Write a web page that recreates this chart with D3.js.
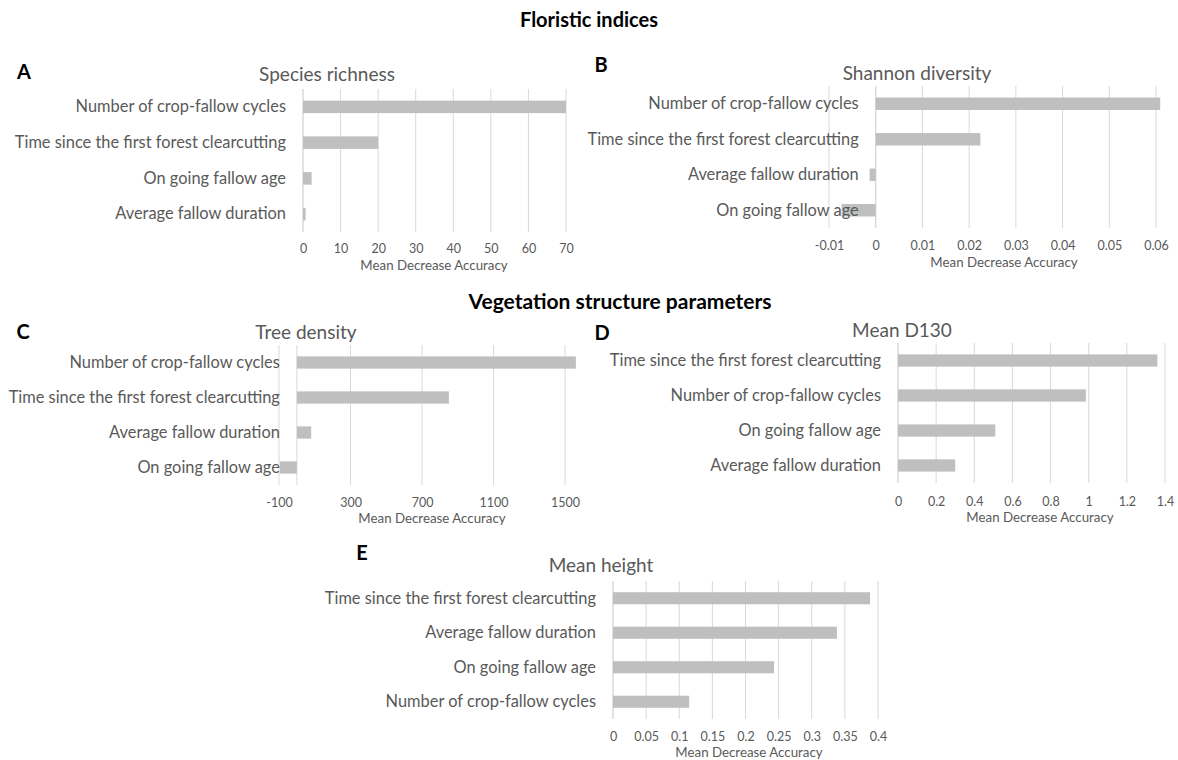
<!DOCTYPE html>
<html>
<head>
<meta charset="utf-8">
<script src="https://cdn.jsdelivr.net/npm/d3@7"></script>
<style>
  body { margin: 0; background: #fff; }
  text { font-family: Lato, "Open Sans", sans-serif; }
</style>
</head>
<body>
<svg id="wrapper" width="1178" height="760"></svg>
<script>
// data per panel (Mean Decrease Accuracy)
const speciesCats = ["Number of crop-fallow cycles", "Time since the first forest clearcutting", "On going fallow age", "Average fallow duration"]
const speciesVals = [70, 20, 2.3, 0.7]
const speciesTicks = [0, 10, 20, 30, 40, 50, 60, 70]

const shannonCats = ["Number of crop-fallow cycles", "Time since the first forest clearcutting", "Average fallow duration", "On going fallow age"]
const shannonVals = [0.0609, 0.0224, -0.0013, -0.0073]
const shannonTicks = [-0.01, 0, 0.01, 0.02, 0.03, 0.04, 0.05, 0.06]

const treeCats = ["Number of crop-fallow cycles", "Time since the first forest clearcutting", "Average fallow duration", "On going fallow age"]
const treeVals = [1560, 850, 80, -95]
const treeTicks = [-100, 300, 700, 1100, 1500]

const d130Cats = ["Time since the first forest clearcutting", "Number of crop-fallow cycles", "On going fallow age", "Average fallow duration"]
const d130Vals = [1.36, 0.985, 0.51, 0.30]
const d130Ticks = [0, 0.2, 0.4, 0.6, 0.8, 1, 1.2, 1.4]

const heightCats = ["Time since the first forest clearcutting", "Average fallow duration", "On going fallow age", "Number of crop-fallow cycles"]
const heightVals = [0.388, 0.338, 0.243, 0.115]
const heightTicks = [0, 0.05, 0.1, 0.15, 0.2, 0.25, 0.3, 0.35, 0.4]

const barColour = "#BFBFBF"
const gridColour = "#D9D9D9"
const textColour = "#595959"
const axisTitle = "Mean Decrease Accuracy"

const panels = [
  {letter: "A", lx: 24, ly: 72, title: "Species richness", tx: 327, ty: 74,
   cats: speciesCats, vals: speciesVals, ticks: speciesTicks, domain: [0, 70],
   left: 303, right: 566, top: 89, bottom: 232, tickY: 249, atx: 434, aty: 265},
  {letter: "B", lx: 601, ly: 65, title: "Shannon diversity", tx: 917, ty: 73,
   cats: shannonCats, vals: shannonVals, ticks: shannonTicks, domain: [-0.01, 0.06],
   left: 829, right: 1156, top: 86, bottom: 228, tickY: 246, atx: 1004, aty: 262},
  {letter: "C", lx: 23, ly: 332, title: "Tree density", tx: 306, ty: 332,
   cats: treeCats, vals: treeVals, ticks: treeTicks, domain: [-100, 1600],
   left: 279, right: 583, top: 345, bottom: 485, tickY: 503, atx: 432, aty: 518},
  {letter: "D", lx: 602, ly: 333, title: "Mean D130", tx: 902, ty: 330,
   cats: d130Cats, vals: d130Vals, ticks: d130Ticks, domain: [0, 1.4],
   left: 898, right: 1165, top: 343, bottom: 483, tickY: 502, atx: 1040, aty: 517},
  {letter: "E", lx: 362, ly: 553, title: "Mean height", tx: 601, ty: 565,
   cats: heightCats, vals: heightVals, ticks: heightTicks, domain: [0, 0.4],
   left: 613, right: 878, top: 581, bottom: 719, tickY: 737, atx: 749, aty: 752}
]

const svg = d3.select('#wrapper')

svg.append("text")
  .attr("x", 589).attr("y", 20).attr("dy", "0.35em")
  .attr("text-anchor", "middle")
  .attr("font-size", 20).attr("font-weight", "bold")
  .text("Floristic indices")

svg.append("text")
  .attr("x", 620).attr("y", 302).attr("dy", "0.35em")
  .attr("text-anchor", "middle")
  .attr("font-size", 21).attr("font-weight", "bold")
  .text("Vegetation structure parameters")

function drawPanel(p) {
  const x = d3.scaleLinear().domain(p.domain).range([p.left, p.right])
  const y = d3.scaleBand().domain(p.cats).range([p.top, p.bottom])
    .paddingInner(0.65).paddingOuter(0.325)
  const g = svg.append("g")

  g.selectAll("line.grid")
    .data(p.ticks)
    .join("line")
    .attr("class", "grid")
    .attr("x1", d => x(d)).attr("x2", d => x(d))
    .attr("y1", p.top).attr("y2", p.bottom)
    .attr("stroke", gridColour)

  // vertical axis line at zero
  g.append("line")
    .attr("x1", x(0)).attr("x2", x(0))
    .attr("y1", p.top).attr("y2", p.bottom)
    .attr("stroke", gridColour)

  g.selectAll("rect")
    .data(p.vals)
    .join("rect")
    .attr("x", d => x(Math.min(0, d)))
    .attr("width", d => Math.abs(x(d) - x(0)))
    .attr("y", (d, i) => y(p.cats[i]))
    .attr("height", y.bandwidth())
    .attr("fill", barColour)

  const yAxis = g.append("g")
    .attr("transform", `translate(${x(0)},0)`)
    .call(d3.axisLeft(y).tickSize(0).tickPadding(17))
  yAxis.select(".domain").remove()
  yAxis.selectAll("text")
    .attr("font-family", "Lato, sans-serif")
    .attr("font-size", 16.4).attr("fill", textColour)

  const xAxis = g.append("g")
    .attr("transform", `translate(0,${p.bottom})`)
    .call(d3.axisBottom(x).tickValues(p.ticks).tickSize(0)
      .tickPadding(p.tickY - p.bottom - 5)
      .tickFormat(d => String(+d.toFixed(3))))
  xAxis.select(".domain").remove()
  xAxis.selectAll("text")
    .attr("font-family", "Lato, sans-serif")
    .attr("font-size", 12.5).attr("fill", textColour)

  g.append("text")
    .attr("x", p.atx).attr("y", p.aty).attr("dy", "0.35em")
    .attr("text-anchor", "middle")
    .attr("font-size", 13.3).attr("fill", textColour)
    .text(axisTitle)

  g.append("text")
    .attr("x", p.tx).attr("y", p.ty).attr("dy", "0.35em")
    .attr("text-anchor", "middle")
    .attr("font-size", 19).attr("fill", textColour)
    .text(p.title)

  g.append("text")
    .attr("x", p.lx).attr("y", p.ly).attr("dy", "0.35em")
    .attr("text-anchor", "middle")
    .attr("font-size", 20).attr("font-weight", "bold")
    .text(p.letter)
}

panels.forEach(drawPanel)
</script>
</body>
</html>
